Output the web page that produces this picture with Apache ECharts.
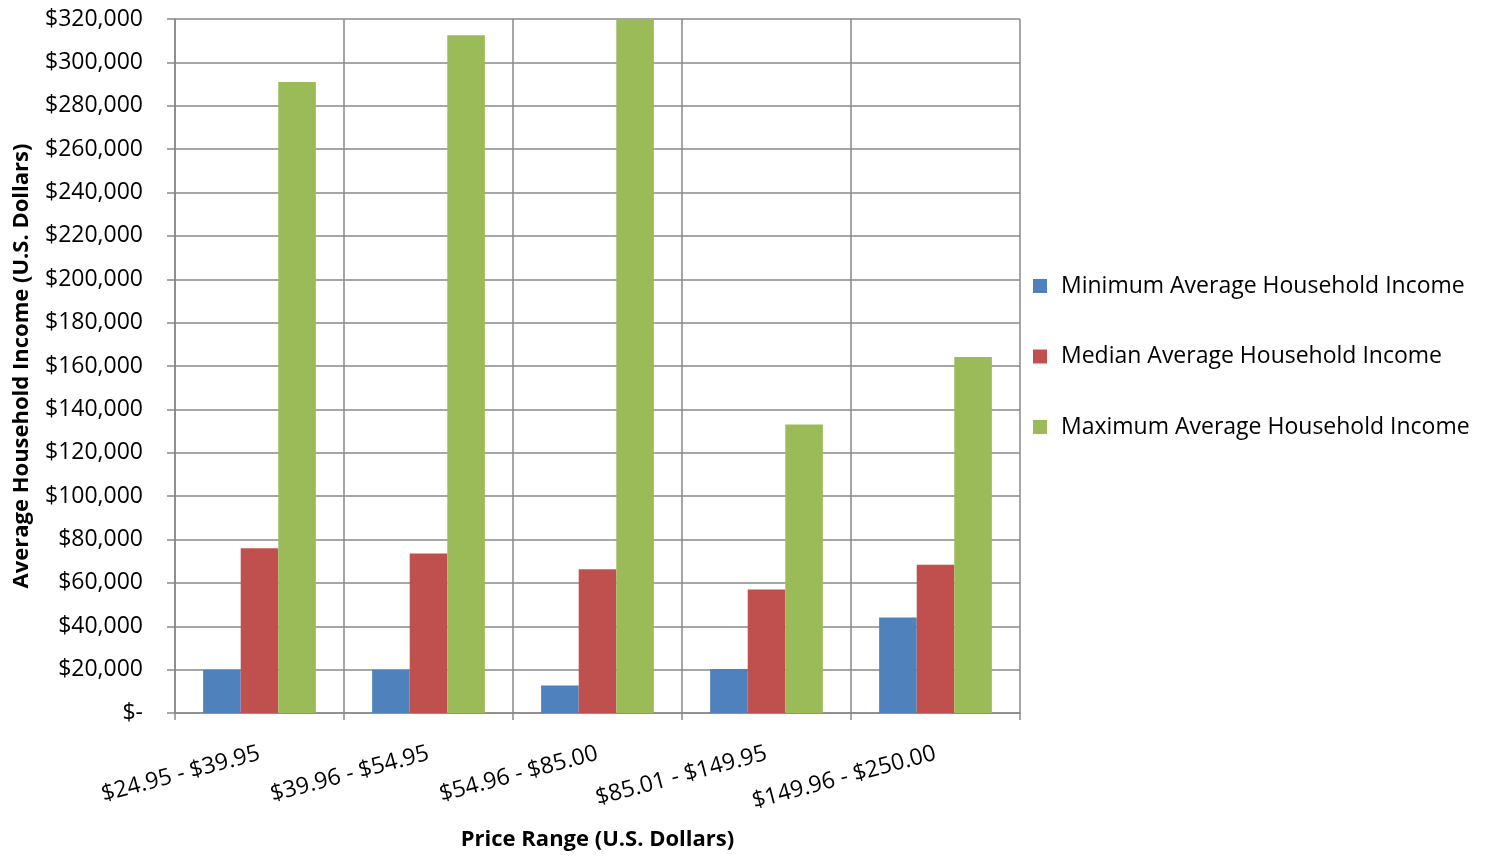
<!DOCTYPE html>
<html>
<head>
<meta charset="utf-8">
<script src="https://cdn.jsdelivr.net/npm/echarts@6/dist/echarts.min.js"></script>
<style>html,body{margin:0;padding:0;background:#fff;}#c{width:1491px;height:856px;}</style>
</head>
<body>
<div id="c"></div>
<script>
const categories = ["$24.95 - $39.95", "$39.96 - $54.95", "$54.96 - $85.00", "$85.01 - $149.95", "$149.96 - $250.00"];
const minimumIncome = [20000, 20000, 12700, 20300, 44000];
const medianIncome = [76000, 73600, 66300, 57000, 68400];
const maximumIncome = [291000, 312500, 320000, 133000, 164200];
const seriesNames = ["Minimum Average Household Income", "Median Average Household Income", "Maximum Average Household Income"];
const colors = ["#4F81BD", "#C0504D", "#9BBB59"];
const font = "Open Sans";
const gridColor = "#898989";

const chart = echarts.init(document.getElementById('c'), null, {renderer: 'canvas'});
const seriesData = [minimumIncome, medianIncome, maximumIncome];
chart.setOption({
  animation: false,
  textStyle: {fontFamily: font, color: '#000'},
  grid: {left: 175, right: 471, top: 19, bottom: 134, containLabel: false},
  legend: {
    orient: 'vertical', left: 1028, top: 269, itemGap: 46.5, itemWidth: 14, itemHeight: 14,
    icon: 'rect',
    textStyle: {fontFamily: font, fontSize: 23, lineHeight: 24, color: '#000', padding: [0, 0, 0, 9]},
    data: seriesNames
  },
  xAxis: {
    type: 'category', data: categories,
    name: 'Price Range (U.S. Dollars)', nameLocation: 'middle', nameGap: 116,
    nameTextStyle: {fontFamily: font, fontSize: 22, fontWeight: 'bold', color: '#000'},
    axisLine: {lineStyle: {color: gridColor, width: 1.5}},
    axisTick: {show: true, length: 7, alignWithLabel: false, lineStyle: {color: gridColor, width: 1.5}},
    splitLine: {show: true, lineStyle: {color: gridColor, width: 1.5}},
    axisLabel: {rotate: 15, fontSize: 23, color: '#000', margin: 40, interval: 0}
  },
  yAxis: {
    type: 'value', min: 0, max: 320000, interval: 20000,
    name: 'Average Household Income (U.S. Dollars)', nameLocation: 'middle', nameGap: 142,
    nameTextStyle: {fontFamily: font, fontSize: 22, fontWeight: 'bold', color: '#000'},
    axisLine: {show: true, lineStyle: {color: gridColor, width: 1.5}},
    axisTick: {show: true, length: 8, lineStyle: {color: gridColor, width: 1.5}},
    splitLine: {show: true, lineStyle: {color: gridColor, width: 1.5}},
    axisLabel: {
      fontSize: 23, color: '#000', margin: 32,
      formatter: v => v === 0 ? '$-' : '$' + v.toLocaleString('en-US')
    }
  },
  series: seriesData.map((d, i) => ({
    name: seriesNames[i], type: 'bar', data: d,
    barGap: '0%', barCategoryGap: '33.3%',
    itemStyle: {color: colors[i]}
  }))
});
</script>
</body>
</html>
